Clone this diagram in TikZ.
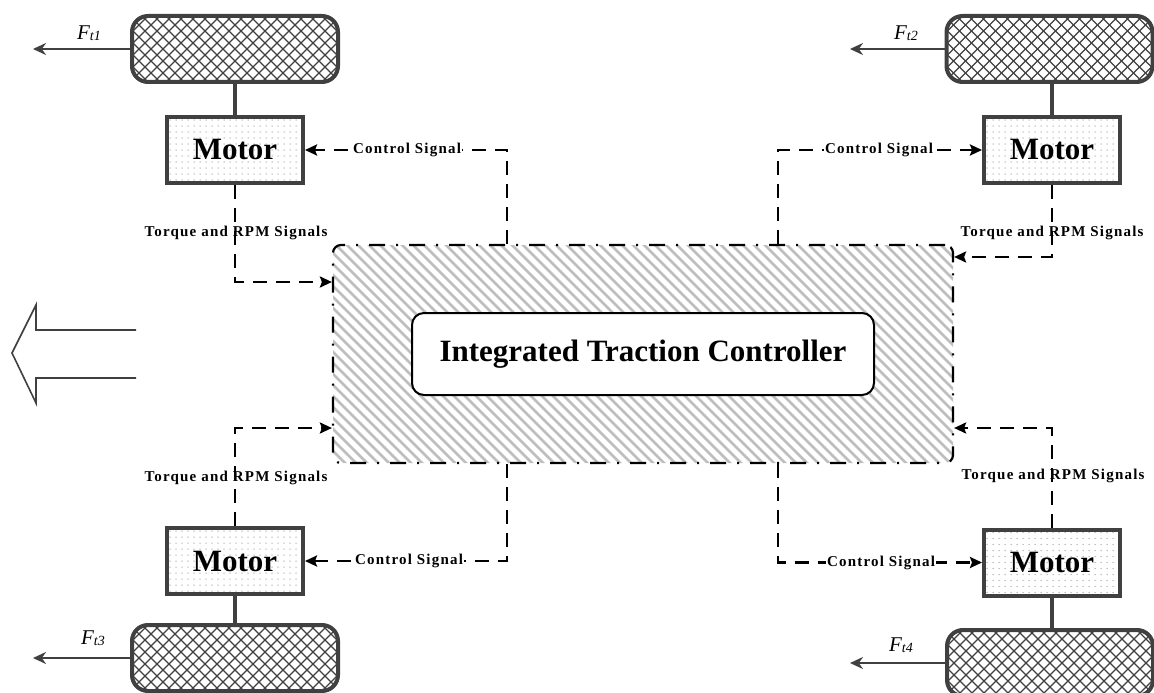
\documentclass[tikz,border=0pt]{standalone}
\usepackage{fontspec}
\setmainfont{Liberation Serif}
\newfontfamily\lblfont[LetterSpace=8]{Liberation Serif}
\usetikzlibrary{arrows.meta,calc}
\definecolor{dg}{HTML}{404040}
\definecolor{hatchgray}{HTML}{BEBEBE}
\tikzset{
  wheel/.style={draw=dg, line width=4pt, rounded corners=16pt, minimum width=206pt, minimum height=66pt, inner sep=0pt,
    path picture={
      \foreach \k in {-28,...,28}{
        \draw[dg, solid, line width=1.2pt] ([shift={(\k*12-120,-120)}]path picture bounding box.center) -- ++(240,240);
        \draw[dg, solid, line width=1.2pt] ([shift={(\k*12-120,120)}]path picture bounding box.center) -- ++(240,-240);
      }}},
  motor/.style={draw=dg, line width=4pt, minimum width=136pt, minimum height=66pt, inner sep=0pt,
    font=\fontsize{31}{31}\selectfont\bfseries,
    path picture={
      \foreach \i in {0,...,22}{\foreach \j in {0,...,10}{
        \fill[gray!60] ([shift={(\i*6+3,\j*6+3)}]path picture bounding box.north west) circle (0.75);
      }}}},
  ctrlbox/.style={draw=black, line width=2.2pt, dash pattern=on 16pt off 11pt on 2pt off 11pt, rounded corners=8pt,
    minimum width=620pt, minimum height=218pt, inner sep=0pt,
    path picture={
      \foreach \k in {-45,...,45}{
        \draw[hatchgray, solid, line width=2.8pt] ([shift={(\k*11-160,-160)}]path picture bounding box.center) -- ++(320,320);
      }}},
  itcbox/.style={draw=black, line width=2pt, rounded corners=12pt, fill=white, minimum width=462pt, minimum height=82pt,
    inner sep=0pt, font=\fontsize{31}{31}\selectfont\bfseries},
  sig/.style={black, line width=2.4pt, dash pattern=on 14pt off 9pt, -{Stealth[length=12pt,width=11pt,inset=2pt]}},
  clabel/.style={fill=white, inner sep=0.8pt, font=\lblfont\bfseries\fontsize{15}{15}\selectfont},
  tlabel/.style={inner sep=0pt, font=\lblfont\bfseries\fontsize{15}{15}\selectfont},
  link/.style={dg, line width=3.5pt},
  farrow/.style={dg, line width=2.5pt, -{Stealth[length=13pt,width=12pt]}},
  flabel/.style={inner sep=0pt, font=\itshape\fontsize{21}{21}\selectfont},
}
\newcommand{\ftsub}[1]{F\raisebox{-1.5pt}{\fontsize{14}{14}\selectfont #1}}
\begin{document}
\begin{tikzpicture}[x=1pt,y=-1pt]
\useasboundingbox (0,0) rectangle (1154,693);

% controller
\node[ctrlbox] (ctrl) at (643,354) {};
\node[itcbox] (itc) at (643,354) {Integrated Traction Controller};

% wheels
\node[wheel] (w1) at (235,49) {};
\node[wheel] (w2) at (1049.5,49) {};
\node[wheel] (w3) at (235,658) {};
\node[wheel] (w4) at (1050,663) {};

% motors
\node[motor] (m1) at (235,150) {Motor};
\node[motor] (m2) at (1052,150) {Motor};
\node[motor] (m3) at (235,561) {Motor};
\node[motor] (m4) at (1052,562.5) {Motor};

% wheel-motor links
\draw[link] (m1.north) -- (m1.north |- w1.south);
\draw[link] (m2.north) -- (m2.north |- w2.south);
\draw[link] (m3.south) -- (m3.south |- w3.north);
\draw[link] (m4.south) -- (m4.south |- w4.north);

% traction force arrows
\coordinate (f1) at (33,49);
\coordinate (f2) at (850,49);
\coordinate (f3) at (33,658);
\coordinate (f4) at (850,663);
\draw[farrow] (w1.west) -- (f1);
\draw[farrow] (w2.west) -- (f2);
\draw[farrow] (w3.west) -- (f3);
\draw[farrow] (w4.west) -- (f4);
\node[flabel] (F1) at (89,33) {\ftsub{t1}};
\node[flabel] (F2) at (906,33) {\ftsub{t2}};
\node[flabel] (F3) at (93,638) {\ftsub{t3}};
\node[flabel] (F4) at (901,645) {\ftsub{t4}};

% coordinates for signal routing
\coordinate (cx1) at (507,0);
\coordinate (cx2) at (778,0);
\coordinate (ty1) at (0,282);
\coordinate (ty2) at (0,257);
\coordinate (ty3) at (0,428);

% torque and RPM signals
\draw[sig] (m1.south) |- (ctrl.west |- ty1);
\draw[sig] (m2.south) |- (ctrl.east |- ty2);
\draw[sig] (m3.north) |- (ctrl.west |- ty3);
\draw[sig] (m4.north) |- (ctrl.east |- ty3);
\node[tlabel] (tl1) at (236,233) {Torque and RPM Signals};
\node[tlabel] (tl2) at (1052,233) {Torque and RPM Signals};
\node[tlabel] (tl3) at (236,478) {Torque and RPM Signals};
\node[tlabel] (tl4) at (1053,476) {Torque and RPM Signals};

% control signals
\draw[sig] (cx1 |- ctrl.north) |- (m1.east);
\draw[sig] (cx2 |- ctrl.north) |- (m2.west);
\draw[sig] (cx1 |- ctrl.south) |- (m3.east);
\draw[sig] (cx2 |- ctrl.south) |- (m4.west);
\node[clabel] (cl1) at (407,150) {Control Signal};
\node[clabel] (cl2) at (879,150) {Control Signal};
\node[clabel] (cl3) at (409,561) {Control Signal};
\node[clabel] (cl4) at (881,562.5) {Control Signal};

% direction of travel arrow
\draw[dg, line width=1.6pt, line join=miter] (136,330) -- (36,330) -- (36,305) -- (12,353) -- (36,403) -- (36,378) -- (136,378);
\end{tikzpicture}
\end{document}
